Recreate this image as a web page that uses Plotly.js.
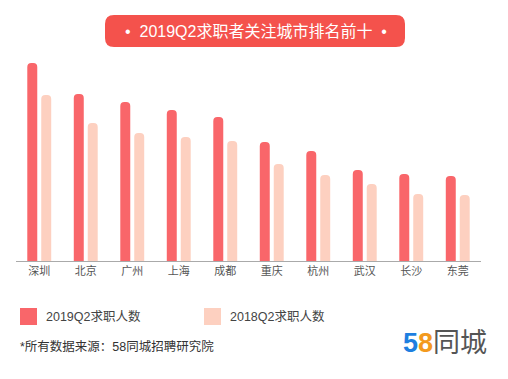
<!DOCTYPE html>
<html>
<head>
<meta charset="utf-8">
<script src="https://cdn.plot.ly/plotly-3.0.1.min.js"></script>
<style>html,body{margin:0;padding:0;background:#fff;}#chart{width:508px;height:379px;}</style>
</head>
<body>
<div id="chart"></div>
<script>
const cities = ["深圳","北京","广州","上海","成都","重庆","杭州","武汉","长沙","东莞"];
const seekers2019 = [198, 167, 159, 151, 144, 119, 110, 91, 87, 85];
const seekers2018 = [166, 138, 128, 124, 120, 97, 86, 77, 67, 66];
const seriesNames = ["2019Q2求职人数", "2018Q2求职人数"];
const titleText = "•  2019Q2求职者关注城市排名前十  •";
const sourceText = "*所有数据来源：58同城招聘研究院";

const W = 508, H = 379;
const M = {l: 16, r: 27, t: 50, b: 118};
const PW = W - M.l - M.r, PH = H - M.t - M.b;
const px = x => (x - M.l) / PW;
const py = y => (H - M.b - y) / PH;
const FONT = '"Liberation Sans", "Noto Sans CJK SC", sans-serif';
const CJK = '"Noto Sans CJK SC", sans-serif';
const C1 = '#F9666A', C2 = '#FDD0C0';

function roundRect(x0, y0, x1, y1, r) {
  const p = (x, y) => px(x).toFixed(5) + ',' + py(y).toFixed(5);
  return 'M' + p(x0 + r, y0) + ' L' + p(x1 - r, y0) + ' Q' + p(x1, y0) + ' ' + p(x1, y0 + r) +
    ' L' + p(x1, y1 - r) + ' Q' + p(x1, y1) + ' ' + p(x1 - r, y1) +
    ' L' + p(x0 + r, y1) + ' Q' + p(x0, y1) + ' ' + p(x0, y1 - r) +
    ' L' + p(x0, y0 + r) + ' Q' + p(x0, y0) + ' ' + p(x0 + r, y0) + ' Z';
}

const traces = [
  {type: 'bar', x: cities, y: seekers2019, name: seriesNames[0], marker: {color: C1, cornerradius: 5}, hoverinfo: 'skip'},
  {type: 'bar', x: cities, y: seekers2018, name: seriesNames[1], marker: {color: C2, cornerradius: 5}, hoverinfo: 'skip'}
];

const shapes = [
  {type: 'path', xref: 'paper', yref: 'paper', path: roundRect(105, 15, 405, 47, 9), fillcolor: '#F4524C', line: {width: 0}},
  {type: 'rect', xref: 'paper', yref: 'paper', x0: px(20), x1: px(37), y0: py(308), y1: py(325), fillcolor: C1, line: {width: 0}},
  {type: 'rect', xref: 'paper', yref: 'paper', x0: px(204), x1: px(221), y0: py(308), y1: py(325), fillcolor: C2, line: {width: 0}}
];

const annotations = [
  {xref: 'paper', yref: 'paper', x: px(256), y: py(31), text: titleText, showarrow: false, xanchor: 'center', yanchor: 'middle', font: {family: FONT, size: 16, color: '#ffffff'}},
  {xref: 'paper', yref: 'paper', x: px(44), y: py(316.5), text: seriesNames[0], showarrow: false, xanchor: 'left', yanchor: 'middle', font: {family: FONT, size: 12.5, color: '#444'}},
  {xref: 'paper', yref: 'paper', x: px(228), y: py(316.5), text: seriesNames[1], showarrow: false, xanchor: 'left', yanchor: 'middle', font: {family: FONT, size: 12.5, color: '#444'}},
  {xref: 'paper', yref: 'paper', x: px(18), y: py(346), text: sourceText, showarrow: false, xanchor: 'left', yanchor: 'middle', font: {family: FONT, size: 12.5, color: '#333'}},
  {xref: 'paper', yref: 'paper', x: px(401), y: py(343), text: '<b><span style="color:#1E7FE0">5</span><span style="color:#F39A1E">8</span></b><span style="color:#555">同城</span>', showarrow: false, xanchor: 'left', yanchor: 'middle', font: {family: FONT, size: 27, color: '#555'}}
];

const layout = {
  width: W, height: H,
  margin: M,
  paper_bgcolor: '#fff', plot_bgcolor: '#fff',
  barmode: 'group', bargap: 0.4, bargroupgap: 0.286,
  showlegend: false,
  xaxis: {type: 'category', showline: true, linecolor: '#aaa', linewidth: 1, ticks: '', showgrid: false, zeroline: false,
          tickfont: {family: CJK, size: 11, color: '#555'}, range: [-0.5, 9.5], fixedrange: true},
  yaxis: {range: [0, PH], visible: false, showgrid: false, zeroline: false, fixedrange: true},
  shapes: shapes,
  annotations: annotations,
  font: {family: FONT}
};

Plotly.newPlot('chart', traces, layout, {displayModeBar: false, staticPlot: true});
</script>
</body>
</html>
